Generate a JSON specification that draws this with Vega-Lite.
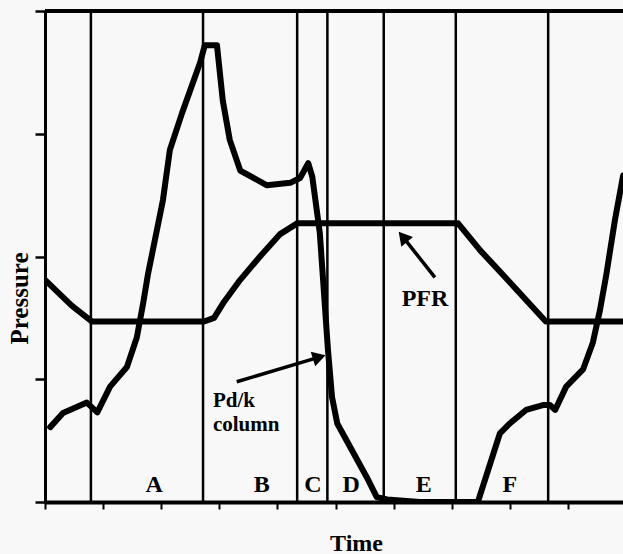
{
  "$schema": "https://vega.github.io/schema/vega-lite/v6.json",
  "width": 578,
  "height": 491,
  "autosize": {"type": "none"},
  "padding": {"left": 45, "top": 11, "right": 0, "bottom": 52},
  "background": "#f8f8f8",
  "config": {"view": {"stroke": null}, "font": "Liberation Serif"},
  "datasets": {
    "curves": [
      {"series": "PFR", "t": 0.0, "p": 1.81},
      {"series": "PFR", "t": 0.46, "p": 1.6},
      {"series": "PFR", "t": 0.81, "p": 1.47},
      {"series": "PFR", "t": 2.74, "p": 1.47},
      {"series": "PFR", "t": 2.91, "p": 1.5},
      {"series": "PFR", "t": 3.08, "p": 1.63},
      {"series": "PFR", "t": 3.36, "p": 1.81},
      {"series": "PFR", "t": 3.7, "p": 2.0},
      {"series": "PFR", "t": 4.04, "p": 2.18},
      {"series": "PFR", "t": 4.34, "p": 2.27},
      {"series": "PFR", "t": 7.11, "p": 2.27},
      {"series": "PFR", "t": 7.49, "p": 2.05},
      {"series": "PFR", "t": 8.0, "p": 1.79},
      {"series": "PFR", "t": 8.62, "p": 1.47},
      {"series": "PFR", "t": 9.95, "p": 1.47},
      {"series": "Pd/k column", "t": 0.09, "p": 0.61},
      {"series": "Pd/k column", "t": 0.31, "p": 0.725},
      {"series": "Pd/k column", "t": 0.72, "p": 0.81},
      {"series": "Pd/k column", "t": 0.9, "p": 0.73},
      {"series": "Pd/k column", "t": 1.12, "p": 0.94},
      {"series": "Pd/k column", "t": 1.41, "p": 1.1},
      {"series": "Pd/k column", "t": 1.58, "p": 1.34},
      {"series": "Pd/k column", "t": 1.69, "p": 1.62},
      {"series": "Pd/k column", "t": 1.77, "p": 1.85},
      {"series": "Pd/k column", "t": 2.03, "p": 2.46},
      {"series": "Pd/k column", "t": 2.15, "p": 2.87},
      {"series": "Pd/k column", "t": 2.36, "p": 3.17},
      {"series": "Pd/k column", "t": 2.67, "p": 3.58},
      {"series": "Pd/k column", "t": 2.75, "p": 3.72},
      {"series": "Pd/k column", "t": 2.96, "p": 3.72},
      {"series": "Pd/k column", "t": 3.06, "p": 3.27},
      {"series": "Pd/k column", "t": 3.18, "p": 2.95},
      {"series": "Pd/k column", "t": 3.36, "p": 2.7},
      {"series": "Pd/k column", "t": 3.82, "p": 2.58},
      {"series": "Pd/k column", "t": 4.22, "p": 2.6},
      {"series": "Pd/k column", "t": 4.39, "p": 2.64},
      {"series": "Pd/k column", "t": 4.53, "p": 2.76},
      {"series": "Pd/k column", "t": 4.6, "p": 2.65},
      {"series": "Pd/k column", "t": 4.73, "p": 2.19},
      {"series": "Pd/k column", "t": 4.87, "p": 1.24},
      {"series": "Pd/k column", "t": 4.94, "p": 0.855},
      {"series": "Pd/k column", "t": 5.03, "p": 0.64},
      {"series": "Pd/k column", "t": 5.25, "p": 0.45},
      {"series": "Pd/k column", "t": 5.54, "p": 0.2},
      {"series": "Pd/k column", "t": 5.71, "p": 0.04},
      {"series": "Pd/k column", "t": 5.89, "p": 0.02},
      {"series": "Pd/k column", "t": 6.45, "p": 0.0},
      {"series": "Pd/k column", "t": 7.45, "p": 0.0},
      {"series": "Pd/k column", "t": 7.83, "p": 0.56},
      {"series": "Pd/k column", "t": 8.0, "p": 0.64},
      {"series": "Pd/k column", "t": 8.28, "p": 0.75},
      {"series": "Pd/k column", "t": 8.57, "p": 0.79},
      {"series": "Pd/k column", "t": 8.69, "p": 0.79},
      {"series": "Pd/k column", "t": 8.78, "p": 0.75},
      {"series": "Pd/k column", "t": 8.97, "p": 0.94},
      {"series": "Pd/k column", "t": 9.26, "p": 1.08},
      {"series": "Pd/k column", "t": 9.43, "p": 1.3},
      {"series": "Pd/k column", "t": 9.55, "p": 1.56},
      {"series": "Pd/k column", "t": 9.66, "p": 1.85},
      {"series": "Pd/k column", "t": 9.81, "p": 2.3},
      {"series": "Pd/k column", "t": 9.95, "p": 2.66}
    ],
    "boundaries": [
      {"t": 0.79}, {"t": 2.72}, {"t": 4.34}, {"t": 4.86}, {"t": 5.83}, {"t": 7.07}, {"t": 8.66}
    ],
    "regions": [
      {"label": "A", "t": 1.88, "p": 0.14},
      {"label": "B", "t": 3.73, "p": 0.14},
      {"label": "C", "t": 4.61, "p": 0.14},
      {"label": "D", "t": 5.27, "p": 0.14},
      {"label": "E", "t": 6.52, "p": 0.14},
      {"label": "F", "t": 8.0, "p": 0.14}
    ],
    "notes": [
      {"text": "PFR", "t": 6.54, "p": 1.65},
      {"text": "Pd/k\ncolumn", "t": 2.89, "p": 0.774}
    ],
    "arrows": [
      {"arrow": "PFR", "t": 6.71, "p": 1.83},
      {"arrow": "PFR", "t": 6.16, "p": 2.16},
      {"arrow": "Pd/k", "t": 3.3, "p": 0.98},
      {"arrow": "Pd/k", "t": 4.72, "p": 1.18}
    ],
    "heads": [
      {"arrow": "PFR", "t": 6.16, "p": 2.16},
      {"arrow": "Pd/k", "t": 4.72, "p": 1.18}
    ]
  },
  "layer": [
    {
      "data": {"name": "boundaries"},
      "mark": {"type": "rule", "color": "black", "strokeWidth": 2.5},
      "encoding": {
        "x": {"field": "t", "type": "quantitative"}
      }
    },
    {
      "data": {"name": "boundaries"},
      "mark": {"type": "rule", "color": "black", "strokeWidth": 3},
      "encoding": {
        "y": {"datum": 4, "type": "quantitative"}
      }
    },
    {
      "data": {"name": "curves"},
      "mark": {"type": "line", "color": "black", "strokeWidth": 6, "strokeJoin": "round", "strokeCap": "round", "clip": true},
      "encoding": {
        "x": {
          "field": "t", "type": "quantitative",
          "scale": {"domain": [0, 9.948], "nice": false, "zero": false},
          "axis": {
            "values": [0, 1, 2, 3, 4, 5, 6, 7, 8, 9],
            "labels": false, "grid": false,
            "domainColor": "black", "domainWidth": 4,
            "tickColor": "black", "tickSize": 7, "tickWidth": 2,
            "title": "Time", "titleFont": "Liberation Serif", "titleFontSize": 24, "titleFontWeight": "bold", "titleColor": "black",
            "titleX": 311, "titleY": 41, "titleAlign": "center", "titleBaseline": "middle"
          }
        },
        "y": {
          "field": "p", "type": "quantitative",
          "scale": {"domain": [0, 4], "nice": false, "zero": false},
          "axis": {
            "values": [0, 1, 2, 3, 4],
            "labels": false, "grid": false,
            "domainColor": "black", "domainWidth": 3,
            "tickColor": "black", "tickSize": 10, "tickWidth": 2.5,
            "title": "Pressure", "titleFont": "Liberation Serif", "titleFontSize": 25, "titleFontWeight": "bold", "titleColor": "black",
            "titleX": -26, "titleY": 287, "titleAlign": "center", "titleBaseline": "middle", "titleAngle": 270
          }
        },
        "detail": {"field": "series", "type": "nominal"}
      }
    },
    {
      "data": {"name": "arrows"},
      "mark": {"type": "line", "color": "black", "strokeWidth": 3.5},
      "encoding": {
        "x": {"field": "t", "type": "quantitative"},
        "y": {"field": "p", "type": "quantitative"},
        "detail": {"field": "arrow", "type": "nominal"}
      }
    },
    {
      "data": {"name": "heads"},
      "transform": [{"filter": "datum.arrow === 'PFR'"}],
      "mark": {"type": "point", "shape": "triangle-up", "filled": true, "opacity": 1, "color": "black", "size": 230, "angle": 320},
      "encoding": {
        "x": {"field": "t", "type": "quantitative"},
        "y": {"field": "p", "type": "quantitative"}
      }
    },
    {
      "data": {"name": "heads"},
      "transform": [{"filter": "datum.arrow === 'Pd/k'"}],
      "mark": {"type": "point", "shape": "triangle-up", "filled": true, "opacity": 1, "color": "black", "size": 230, "angle": 73},
      "encoding": {
        "x": {"field": "t", "type": "quantitative"},
        "y": {"field": "p", "type": "quantitative"}
      }
    },
    {
      "data": {"name": "regions"},
      "mark": {"type": "text", "font": "Liberation Serif", "fontWeight": "bold", "fontSize": 24, "color": "black", "align": "center", "baseline": "middle"},
      "encoding": {
        "x": {"field": "t", "type": "quantitative"},
        "y": {"field": "p", "type": "quantitative"},
        "text": {"field": "label"}
      }
    },
    {
      "data": {"name": "notes"},
      "transform": [{"filter": "datum.text === 'PFR'"}],
      "mark": {"type": "text", "font": "Liberation Serif", "fontWeight": "bold", "fontSize": 24, "color": "black", "align": "center", "baseline": "middle"},
      "encoding": {
        "x": {"field": "t", "type": "quantitative"},
        "y": {"field": "p", "type": "quantitative"},
        "text": {"field": "text"}
      }
    },
    {
      "data": {"name": "notes"},
      "transform": [{"filter": "datum.text !== 'PFR'"}],
      "mark": {"type": "text", "font": "Liberation Serif", "fontWeight": "bold", "fontSize": 21, "lineHeight": 24, "lineBreak": "\n", "color": "black", "align": "left", "baseline": "alphabetic"},
      "encoding": {
        "x": {"field": "t", "type": "quantitative"},
        "y": {"field": "p", "type": "quantitative"},
        "text": {"field": "text"}
      }
    }
  ]
}
